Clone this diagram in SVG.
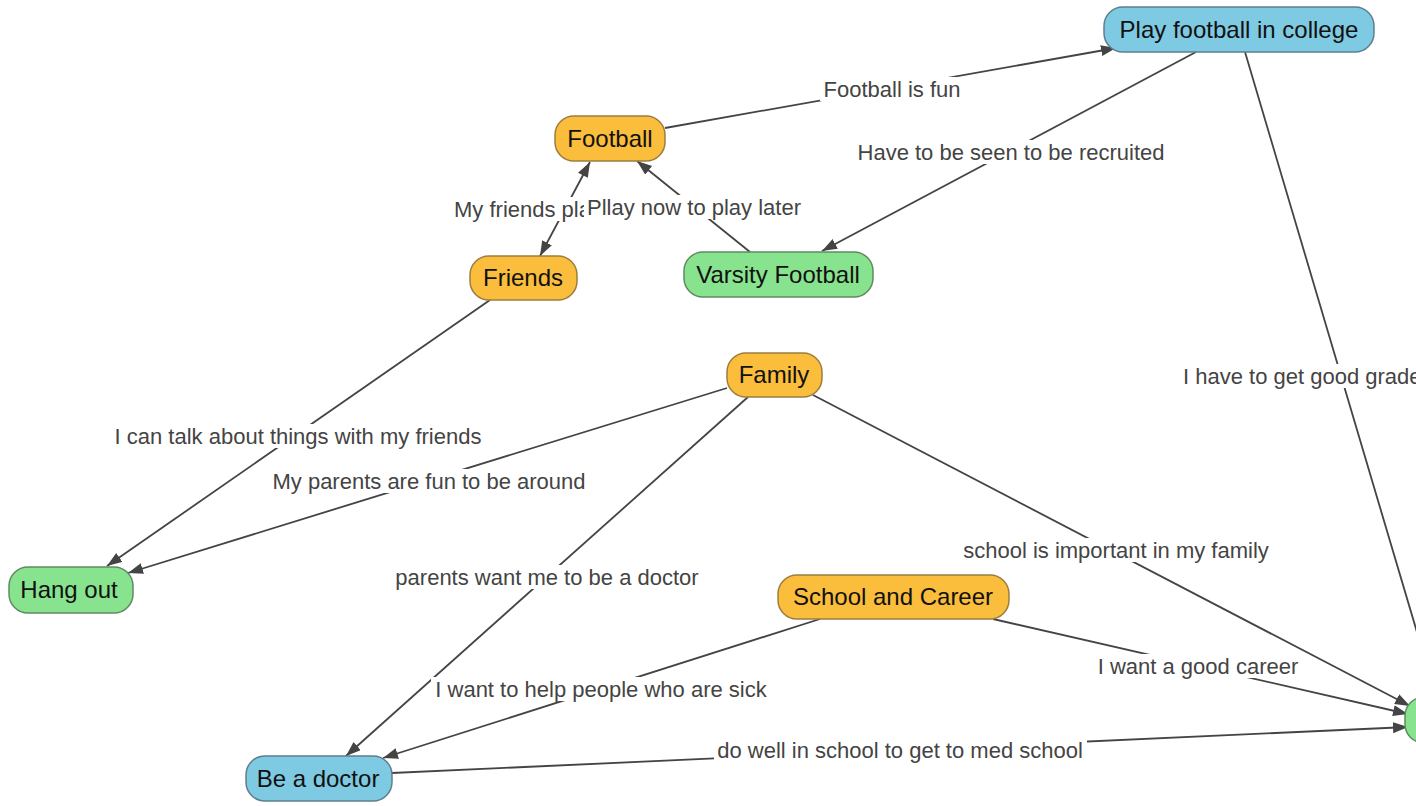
<svg xmlns="http://www.w3.org/2000/svg" width="1416" height="806" viewBox="0 0 1416 806">
<defs>
<style>
.edge{stroke:#444;stroke-width:1.8;fill:none}
.lblbg{fill:#fff}
.lbl{font-family:"Liberation Sans",Arial,sans-serif;font-size:22px;fill:#444;text-anchor:middle}
.lbll{font-family:"Liberation Sans",Arial,sans-serif;font-size:22px;fill:#444;text-anchor:start}
.ntext{font-family:"Liberation Sans",Arial,sans-serif;font-size:24px;fill:#111;text-anchor:middle}
.orange{fill:#fbbd3c;stroke:#9c7d40;stroke-width:1.5}
.blue{fill:#7ecae2;stroke:#5d7f8c;stroke-width:1.5}
.green{fill:#88e38f;stroke:#5f8a62;stroke-width:1.5}
</style>
<marker id="arr" markerUnits="userSpaceOnUse" markerWidth="16" markerHeight="12" refX="15" refY="5.5" orient="auto">
<path d="M0,0 L15,5.5 L0,11 z" fill="#444"/>
</marker>
<marker id="arrs" markerUnits="userSpaceOnUse" markerWidth="16" markerHeight="12" refX="0" refY="5.5" orient="auto">
<path d="M15,0 L0,5.5 L15,11 z" fill="#444"/>
</marker>
</defs>
<rect width="1416" height="806" fill="#fff"/>
<g id="connectors">
<line class="edge" x1="665" y1="128" x2="1116" y2="48" marker-end="url(#arr)"/>
<line class="edge" x1="1196" y1="52" x2="822" y2="251" marker-end="url(#arr)"/>
<line class="edge" x1="750" y1="252" x2="637" y2="161" marker-end="url(#arr)"/>
<line class="edge" x1="590" y1="162" x2="540" y2="256" marker-start="url(#arrs)" marker-end="url(#arr)"/>
<line class="edge" x1="490" y1="300" x2="107" y2="566" marker-end="url(#arr)"/>
<line class="edge" x1="727" y1="388" x2="128" y2="573" marker-end="url(#arr)"/>
<line class="edge" x1="748" y1="397" x2="346" y2="756" marker-end="url(#arr)"/>
<line class="edge" x1="813" y1="395" x2="1410" y2="706" marker-end="url(#arr)"/>
<line class="edge" x1="820" y1="619" x2="383" y2="758" marker-end="url(#arr)"/>
<line class="edge" x1="993" y1="619" x2="1408" y2="714" marker-end="url(#arr)"/>
<line class="edge" x1="392" y1="773" x2="1408" y2="727" marker-end="url(#arr)"/>
<line class="edge" x1="1245" y1="52" x2="1430" y2="676" marker-end="url(#arr)"/>
<g id="labels">
<rect class="lblbg" x="820" y="77" width="144" height="24"/>
<text class="lbl" x="892" y="97">Football is fun</text>
<rect class="lblbg" x="854" y="140" width="314" height="24"/>
<text class="lbl" x="1011" y="160">Have to be seen to be recruited</text>
<rect class="lblbg" x="452" y="197" width="150" height="24"/>
<text class="lbll" x="454" y="217">My friends pla</text>
<rect class="lblbg" x="584" y="195" width="221" height="24"/>
<text class="lbl" x="694" y="215">Pllay now to play later</text>
<rect class="lblbg" x="111" y="424" width="375" height="24"/>
<text class="lbl" x="298" y="444">I can talk about things with my friends</text>
<rect class="lblbg" x="269" y="469" width="321" height="24"/>
<text class="lbl" x="429" y="489">My parents are fun to be around</text>
<rect class="lblbg" x="392" y="565" width="311" height="24"/>
<text class="lbl" x="547" y="585">parents want me to be a doctor</text>
<rect class="lblbg" x="960" y="538" width="313" height="24"/>
<text class="lbl" x="1116" y="558">school is important in my family</text>
<rect class="lblbg" x="431" y="677" width="340" height="24"/>
<text class="lbl" x="601" y="697">I want to help people who are sick</text>
<rect class="lblbg" x="1095" y="654" width="207" height="24"/>
<text class="lbl" x="1198" y="674">I want a good career</text>
<rect class="lblbg" x="714" y="738" width="373" height="24"/>
<text class="lbl" x="900" y="758">do well in school to get to med school</text>
<rect class="lblbg" x="1181" y="364" width="240" height="24"/>
<text class="lbll" x="1183" y="384">I have to get good grades</text>
</g>
</g>
<g id="node-play-football-college">
<rect class="blue" x="1104" y="7" width="270" height="45" rx="19"/>
<text class="ntext" x="1239" y="38">Play football in college</text>
</g>
<g id="node-football">
<rect class="orange" x="555" y="116" width="110" height="45" rx="19"/>
<text class="ntext" x="610" y="147">Football</text>
</g>
<g id="node-friends">
<rect class="orange" x="470" y="256" width="107" height="44" rx="19"/>
<text class="ntext" x="523" y="286">Friends</text>
</g>
<g id="node-varsity-football">
<rect class="green" x="684" y="252" width="189" height="45" rx="19"/>
<text class="ntext" x="778" y="283">Varsity Football</text>
</g>
<g id="node-family">
<rect class="orange" x="727" y="353" width="95" height="44" rx="19"/>
<text class="ntext" x="774" y="383">Family</text>
</g>
<g id="node-hang-out">
<rect class="green" x="9" y="567" width="124" height="46" rx="19"/>
<text class="ntext" x="69" y="598">Hang out</text>
</g>
<g id="node-school-career">
<rect class="orange" x="778" y="575" width="231" height="44" rx="19"/>
<text class="ntext" x="893" y="605">School and Career</text>
</g>
<g id="node-be-doctor">
<rect class="blue" x="246" y="756" width="146" height="45" rx="19"/>
<text class="ntext" x="318" y="787">Be a doctor</text>
</g>
<g id="node-right">
<rect class="green" x="1405" y="697" width="150" height="46" rx="19"/>
</g>
</svg>
